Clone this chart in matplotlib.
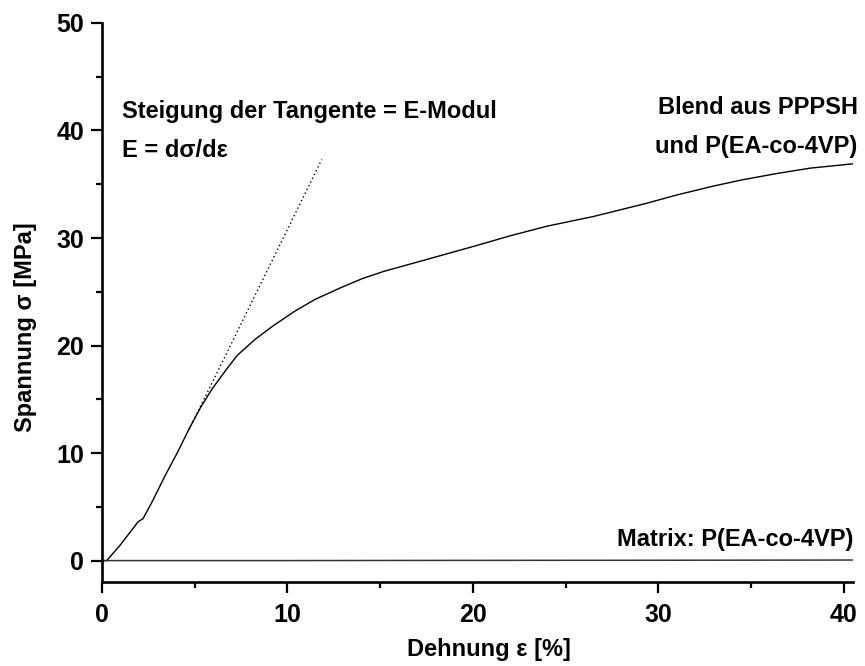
import matplotlib.pyplot as plt
from matplotlib.ticker import MultipleLocator

plt.rcParams['font.family'] = ['Liberation Sans', 'DejaVu Sans']
plt.rcParams['font.weight'] = 'bold'

# Blend aus PPPSH und P(EA-co-4VP)
blend_x = [0.0, 0.25, 0.96, 1.94, 2.21, 2.74, 3.37, 4.08, 4.71, 5.33, 5.95, 6.76,
           7.3, 8.27, 9.2, 10.4, 11.5, 12.9, 14.0, 15.2, 17.5, 20.2, 22.0, 24.0,
           26.5, 29.3, 31.0, 32.9, 34.5, 36.4, 38.2, 40.5]
blend_y = [0.0, 0.0, 1.4, 3.6, 3.9, 5.6, 7.8, 10.1, 12.3, 14.3, 16.0, 17.9,
           19.1, 20.6, 21.8, 23.2, 24.3, 25.4, 26.2, 26.9, 28.0, 29.3, 30.2, 31.1,
           32.0, 33.2, 34.0, 34.8, 35.4, 36.0, 36.5, 36.9]

# Matrix: P(EA-co-4VP)
matrix_x = [0.0, 10.0, 20.0, 30.0, 40.5]
matrix_y = [0.0, 0.0, 0.02, 0.03, 0.05]

# Tangente
tangent_x = [4.7, 11.85]
tangent_y = [12.2, 37.3]

fig = plt.figure(figsize=(8.65, 6.66), dpi=100)
ax = fig.add_axes([0.118, 0.126, 0.868, 0.8395])

ax.plot(blend_x, blend_y, color='black', lw=1.0)
ax.plot(matrix_x, matrix_y, color='#333333', lw=1.1)
ax.plot(tangent_x, tangent_y, color='black', lw=1.0, linestyle=(0, (1, 2)))

ax.set_xlim(0, 40.5)
ax.set_ylim(-2, 50)
ax.xaxis.set_major_locator(MultipleLocator(10))
ax.xaxis.set_minor_locator(MultipleLocator(5))
ax.yaxis.set_major_locator(MultipleLocator(10))
ax.yaxis.set_minor_locator(MultipleLocator(5))

for s in ['top', 'right']:
    ax.spines[s].set_visible(False)
for s in ['left', 'bottom']:
    ax.spines[s].set_linewidth(1.9)

ax.tick_params(which='major', direction='out', length=8, width=1.6, labelsize=18, pad=5)
ax.tick_params(which='minor', direction='out', length=4.5, width=1.6)
ax.tick_params(axis='x', which='major', pad=7)

ax.set_xlabel('Dehnung ε [%]', fontsize=17, fontweight='bold')
ax.set_ylabel('Spannung σ [MPa]', fontsize=17, fontweight='bold')
ax.xaxis.set_label_coords(0.515, -0.1)
ax.yaxis.set_label_coords(-0.087, 0.456)

ax.text(1.07, 41.8, 'Steigung der Tangente = E-Modul', fontsize=17, fontweight='bold',
        ha='left', va='center')
ax.text(1.07, 38.1, 'E = dσ/dε', fontsize=17, fontweight='bold', ha='left', va='center')
ax.text(40.75, 42.1, 'Blend aus PPPSH', fontsize=17, fontweight='bold', ha='right', va='center')
ax.text(40.75, 38.5, 'und P(EA-co-4VP)', fontsize=17, fontweight='bold', ha='right', va='center')
ax.text(40.5, 2.0, 'Matrix: P(EA-co-4VP)', fontsize=17, fontweight='bold', ha='right', va='center')

fig.savefig('out.png', dpi=100)
